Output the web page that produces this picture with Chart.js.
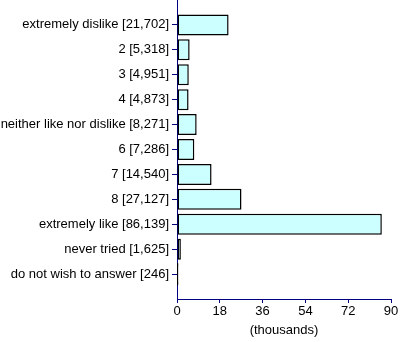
<!DOCTYPE html>
<html>
<head>
<meta charset="utf-8">
<script src="https://cdn.jsdelivr.net/npm/chart.js@4"></script>
<style>
  html, body { margin: 0; padding: 0; background: #fff; }
</style>
</head>
<body>
<canvas id="chart" width="400" height="342"></canvas>
<script>
const answers = [
  'extremely dislike', '2', '3', '4', 'neither like nor dislike', '6', '7', '8',
  'extremely like', 'never tried', 'do not wish to answer'
];
const counts = [21702, 5318, 4951, 4873, 8271, 7286, 14540, 27127, 86139, 1625, 246];
const xTicks = [0, 18, 36, 54, 72, 90];

const navy = '#000080';
const font = { family: 'Liberation Sans, Arial', size: 13 };
const fmt = (n) => n.toLocaleString('en-US');

// empty slots at both ends so the first/last bars sit one step in from the axis ends
const labels = ['', ...answers.map((a, i) => `${a} [${fmt(counts[i])}]`), ''];
const values = [null, ...counts.map(c => c / 1000), null];
const lastIdx = labels.length - 1;

// bars thinner than a pixel are just outline, so draw them as a solid dark sliver
const isTiny = (ctx) => {
  const v = ctx.parsed ? ctx.parsed.x : null;
  if (v == null) return false;
  const x = ctx.chart.scales.x;
  return (x.getPixelForValue(v) - x.getPixelForValue(0)) < 1.5;
};

new Chart(document.getElementById('chart'), {
  type: 'bar',
  data: {
    labels,
    datasets: [{
      data: values,
      backgroundColor: (ctx) => isTiny(ctx) ? '#000' : '#ccffff',
      borderColor: '#000',
      borderWidth: 1.5,
      borderSkipped: false,
      barThickness: 21,
      inflateAmount: (ctx) => isTiny(ctx) ? 0.8 : 0,
    }],
  },
  options: {
    indexAxis: 'y',
    responsive: false,
    animation: false,
    layout: { padding: { top: 0, right: 9, left: 0, bottom: 0 } },
    plugins: {
      legend: { display: false },
      tooltip: { enabled: false },
    },
    scales: {
      x: {
        type: 'linear',
        min: 0,
        max: 90,
        z: 1,
        afterBuildTicks: (scale) => { scale.ticks = xTicks.map(v => ({ value: v })); },
        afterFit: (scale) => { scale.height = 43; },
        border: { color: navy, width: 1 },
        grid: { drawOnChartArea: false, drawTicks: true, tickLength: 4, color: navy },
        ticks: { color: '#000', padding: 1, font },
        title: {
          display: true,
          text: '(thousands)',
          color: '#000',
          padding: { top: 0, bottom: 4 },
          font,
        },
      },
      y: {
        type: 'category',
        offset: false,
        z: 1,
        afterFit: (scale) => {
          scale.width = 177;
          scale.paddingTop = 0;
          scale.paddingBottom = 0;
        },
        border: { color: navy, width: 1 },
        grid: {
          offset: false,
          drawOnChartArea: false,
          drawTicks: true,
          tickLength: 5,
          color: (ctx) => (ctx.index === 0 || ctx.index === lastIdx) ? 'rgba(0,0,0,0)' : navy,
        },
        ticks: {
          color: '#000',
          padding: 3,
          autoSkip: false,
          font,
        },
      },
    },
  },
});
</script>
</body>
</html>
